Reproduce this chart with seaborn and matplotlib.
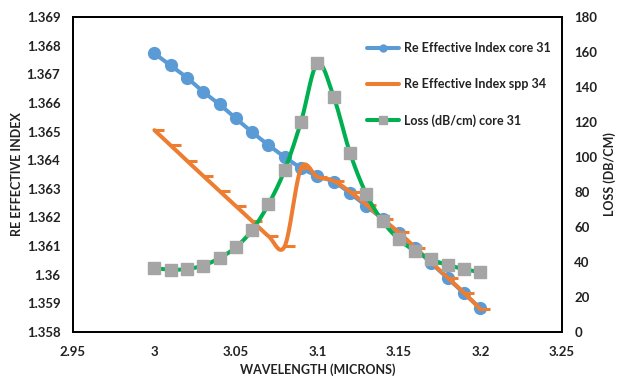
import numpy as np
import pandas as pd
import matplotlib
matplotlib.use("Agg")
import matplotlib.pyplot as plt
from matplotlib.lines import Line2D
from matplotlib.ticker import FuncFormatter, MultipleLocator
import seaborn as sns

# ---- data ----
wavelength = [3.00, 3.01, 3.02, 3.03, 3.04, 3.05, 3.06, 3.07, 3.08, 3.09, 3.10,
              3.11, 3.12, 3.13, 3.14, 3.15, 3.16, 3.17, 3.18, 3.19, 3.20]
re_core31 = [1.36773, 1.36731, 1.36688, 1.36639, 1.36595, 1.36546, 1.36498,
             1.36453, 1.36411, 1.36373, 1.36345, 1.36325, 1.36285, 1.36240,
             1.36195, 1.36145, 1.36092, 1.36040, 1.35988, 1.35935, 1.35883]
re_spp34 = [1.36505, 1.36452, 1.36398, 1.36345, 1.36292, 1.36240, 1.36187,
            1.36135, 1.36100, 1.36372, 1.36342, 1.36328, 1.36290, 1.36245,
            1.36195, 1.36148, 1.36095, 1.36042, 1.35990, 1.35937, 1.35880]
loss_core31 = [36.4, 35.6, 36.0, 38.0, 42.3, 48.4, 58.3, 73.0, 92.6, 120.2,
               153.5, 134.5, 102.5, 78.9, 63.4, 53.0, 46.3, 41.5, 38.3, 36.0, 34.1]

labels = ["Re Effective Index core 31", "Re Effective Index spp 34", "Loss (dB/cm) core 31"]
colors = ["#5B9BD5", "#ED7D31", "#00B050"]
marker_gray = "#A5A5A5"


def smooth(x, y, n=20):
    """Catmull-Rom style smoothing similar to Excel's smoothed line."""
    x = np.asarray(x, float)
    y = np.asarray(y, float)
    px = np.concatenate([[x[0]], x, [x[-1]]])
    py = np.concatenate([[y[0]], y, [y[-1]]])
    xs, ys = [], []
    t = np.linspace(0, 1, n, endpoint=False)
    for i in range(1, len(px) - 2):
        p0x, p1x, p2x, p3x = px[i - 1], px[i], px[i + 1], px[i + 2]
        p0y, p1y, p2y, p3y = py[i - 1], py[i], py[i + 1], py[i + 2]
        c1x, c1y = p1x + (p2x - p0x) / 6, p1y + (p2y - p0y) / 6
        c2x, c2y = p2x - (p3x - p1x) / 6, p2y - (p3y - p1y) / 6
        bx = (1 - t) ** 3 * p1x + 3 * (1 - t) ** 2 * t * c1x + 3 * (1 - t) * t ** 2 * c2x + t ** 3 * p2x
        by = (1 - t) ** 3 * p1y + 3 * (1 - t) ** 2 * t * c1y + 3 * (1 - t) * t ** 2 * c2y + t ** 3 * p2y
        xs.append(bx)
        ys.append(by)
    xs.append([x[-1]])
    ys.append([y[-1]])
    return np.concatenate(xs), np.concatenate(ys)


sns.set_theme(style="white")
plt.rcParams["font.family"] = ["Lato", "DejaVu Sans"]
plt.rcParams["font.weight"] = "bold"

fig = plt.figure(figsize=(6.18, 3.79), dpi=100)
ax = fig.add_axes([0.118, 0.124, 0.791, 0.831])
ax2 = ax.twinx()

df = pd.DataFrame({"x": wavelength, "core": re_core31, "spp": re_spp34, "loss": loss_core31})

lw = 2.9
# blue
sx, sy = smooth(df["x"], df["core"])
sns.lineplot(x=sx, y=sy, ax=ax, color=colors[0], lw=lw, sort=False, estimator=None)
ax.plot(df["x"], df["core"], ls="none", marker="o", ms=8.5, color=colors[0], zorder=3)
# orange
sx, sy = smooth(df["x"], df["spp"])
sns.lineplot(x=sx, y=sy, ax=ax, color=colors[1], lw=lw, sort=False, estimator=None, zorder=4)
ax.plot(df["x"], df["spp"], ls="none", marker=1, ms=7, mew=2.2, color=colors[1], zorder=4)
# green
sx, sy = smooth(df["x"], df["loss"])
sns.lineplot(x=sx, y=sy, ax=ax2, color=colors[2], lw=lw, sort=False, estimator=None)
ax2.plot(df["x"], df["loss"], ls="none", marker="s", ms=8.5, color=marker_gray, zorder=3)

ax.set_xlim(2.95, 3.25)
ax.set_ylim(1.358, 1.369)
ax2.set_ylim(0, 180)
ax.xaxis.set_major_locator(MultipleLocator(0.05))
ax.yaxis.set_major_locator(MultipleLocator(0.001))
ax2.yaxis.set_major_locator(MultipleLocator(20))
ax.xaxis.set_major_formatter(FuncFormatter(lambda v, p: f"{round(v, 4):g}"))
ax.yaxis.set_major_formatter(FuncFormatter(lambda v, p: f"{round(v, 4):g}"))
ax2.yaxis.set_major_formatter(FuncFormatter(lambda v, p: f"{round(v):g}"))

for a in (ax, ax2):
    a.tick_params(length=0, labelsize=9.5, colors="#222222", pad=8)
    for s in a.spines.values():
        s.set_color("black")
        s.set_linewidth(1.3)
    for lab in a.get_xticklabels() + a.get_yticklabels():
        lab.set_fontweight("bold")
ax.tick_params(axis="x", pad=10)
ax.tick_params(axis="y", pad=9)
ax2.tick_params(axis="y", pad=9)

ax.set_xlabel("WAVELENGTH (MICRONS)", fontsize=9, fontweight="bold", color="#222222", labelpad=4)
ax.set_ylabel("RE EFFECTIVE INDEX", fontsize=9, fontweight="bold", color="#222222", labelpad=3)
ax2.set_ylabel("LOSS (DB/CM)", fontsize=9, fontweight="bold", color="#222222", labelpad=4)
ax.grid(False)
ax2.grid(False)

handles = [
    Line2D([], [], color=colors[0], lw=lw, marker="o", ms=5),
    Line2D([], [], color=colors[1], lw=lw),
    Line2D([], [], color=colors[2], lw=lw, marker="s", ms=6, mfc=marker_gray, mec=marker_gray),
]
leg = ax.legend(handles, labels, loc="upper left", bbox_to_anchor=(0.578, 0.955), frameon=False,
                fontsize=9, labelspacing=1.9, handlelength=2.6, handletextpad=0.4)
for t in leg.get_texts():
    t.set_fontweight("bold")
    t.set_color("#222222")

fig.savefig("out.png", dpi=100)
